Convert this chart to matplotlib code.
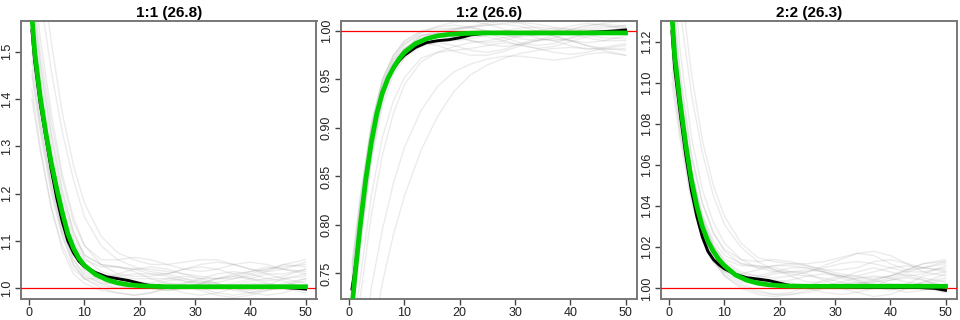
import matplotlib
matplotlib.use("Agg")
import matplotlib.pyplot as plt

plt.rcParams['font.family'] = ['Liberation Sans', 'DejaVu Sans']

titles = ["1:1 (26.8)", "1:2 (26.6)", "2:2 (26.3)"]

# x grid for mean and fitted curves
cx = [0.5, 1, 2, 3, 4, 5, 6, 7, 8, 9, 10, 12, 14, 16, 18, 20, 22, 25, 30, 35, 40, 45, 48, 50]

mean_11 = [1.545, 1.48, 1.39, 1.32, 1.25, 1.19, 1.14, 1.10, 1.075, 1.057, 1.046, 1.033, 1.024, 1.020, 1.016,
           1.010, 1.005, 1.003, 1.003, 1.003, 1.002, 1.002, 1.000, 0.998]
fit_11 = [1.575, 1.50, 1.405, 1.33, 1.265, 1.21, 1.16, 1.115, 1.085, 1.063, 1.048, 1.029, 1.018, 1.011, 1.007,
          1.005, 1.004, 1.003, 1.003, 1.003, 1.003, 1.003, 1.003, 1.003]

mean_12 = [0.734, 0.752, 0.80, 0.848, 0.886, 0.916, 0.937, 0.951, 0.961, 0.969, 0.975, 0.983, 0.988, 0.990,
           0.991, 0.993, 0.996, 0.998, 0.998, 0.998, 0.998, 0.999, 1.000, 1.001]
fit_12 = [0.715, 0.745, 0.80, 0.847, 0.885, 0.915, 0.936, 0.951, 0.962, 0.971, 0.978, 0.987, 0.992, 0.995,
          0.9965, 0.9972, 0.9977, 0.998, 0.998, 0.998, 0.998, 0.998, 0.998, 0.998]

mean_22 = [1.125, 1.107, 1.085, 1.065, 1.048, 1.035, 1.025, 1.018, 1.014, 1.0115, 1.0095, 1.0068, 1.0052, 1.0045,
           1.0038, 1.0025, 1.0013, 1.0008, 1.0008, 1.0005, 1.0004, 1.0004, 1.000, 0.999]
fit_22 = [1.133, 1.113, 1.09, 1.07, 1.053, 1.04, 1.03, 1.023, 1.018, 1.014, 1.011, 1.0065, 1.004, 1.0025,
          1.0017, 1.0013, 1.0011, 1.001, 1.001, 1.001, 1.001, 1.001, 1.001, 1.001]

# x grid for individual (gray) traces
gx = [0.5, 2, 4, 6, 8, 10, 13, 16, 19, 22, 25, 28, 31, 34, 37, 40, 43, 46, 50]

traces_11 = [
    [1.58, 1.42, 1.27, 1.16, 1.08, 1.04, 1.02, 1.01, 1.005, 1.00, 0.995, 1.00, 1.01, 1.02, 1.03, 1.035, 1.04, 1.045, 1.05],
    [1.45, 1.33, 1.20, 1.11, 1.05, 1.02, 1.00, 0.99, 0.985, 0.99, 1.00, 1.01, 1.015, 1.01, 1.00, 0.99, 0.985, 0.99, 1.005],
    [1.62, 1.47, 1.32, 1.20, 1.12, 1.07, 1.05, 1.045, 1.04, 1.04, 1.035, 1.03, 1.02, 1.02, 1.025, 1.035, 1.045, 1.04, 1.03],
    [1.52, 1.38, 1.24, 1.14, 1.07, 1.04, 1.025, 1.025, 1.03, 1.03, 1.025, 1.015, 1.005, 1.00, 1.005, 1.015, 1.02, 1.015, 1.00],
    [1.42, 1.30, 1.17, 1.08, 1.03, 1.01, 0.995, 0.99, 0.985, 0.99, 1.00, 1.005, 1.00, 0.99, 0.985, 0.99, 1.00, 1.01, 1.02],
    [1.85, 1.70, 1.52, 1.37, 1.26, 1.18, 1.11, 1.075, 1.06, 1.05, 1.05, 1.055, 1.06, 1.06, 1.05, 1.04, 1.035, 1.04, 1.055],
    [1.56, 1.42, 1.28, 1.17, 1.10, 1.06, 1.045, 1.045, 1.035, 1.02, 1.01, 1.01, 1.02, 1.03, 1.035, 1.03, 1.02, 1.025, 1.04],
    [1.48, 1.35, 1.22, 1.12, 1.06, 1.03, 1.01, 1.00, 1.005, 1.01, 1.02, 1.025, 1.02, 1.01, 1.00, 0.995, 1.005, 1.02, 1.03],
    [1.65, 1.50, 1.35, 1.23, 1.14, 1.09, 1.06, 1.06, 1.065, 1.06, 1.05, 1.04, 1.035, 1.04, 1.05, 1.055, 1.05, 1.04, 1.035],
    [1.50, 1.36, 1.22, 1.12, 1.06, 1.025, 1.01, 1.01, 1.015, 1.01, 1.00, 0.99, 0.985, 0.99, 1.00, 1.01, 1.01, 1.00, 0.99],
    [1.60, 1.45, 1.30, 1.19, 1.11, 1.07, 1.05, 1.045, 1.04, 1.03, 1.03, 1.04, 1.05, 1.055, 1.05, 1.04, 1.03, 1.03, 1.04],
    [1.40, 1.29, 1.17, 1.09, 1.04, 1.02, 1.02, 1.03, 1.04, 1.045, 1.04, 1.03, 1.025, 1.02, 1.02, 1.025, 1.035, 1.05, 1.06],
    [1.75, 1.62, 1.46, 1.33, 1.23, 1.15, 1.09, 1.06, 1.045, 1.035, 1.03, 1.02, 1.01, 1.005, 1.01, 1.02, 1.03, 1.02, 1.01],
    [1.54, 1.40, 1.26, 1.15, 1.08, 1.045, 1.03, 1.02, 1.01, 1.00, 0.995, 1.00, 1.01, 1.02, 1.025, 1.02, 1.01, 1.005, 1.015],
    [1.57, 1.41, 1.26, 1.15, 1.075, 1.035, 1.015, 1.005, 1.00, 1.005, 1.015, 1.02, 1.015, 1.005, 0.995, 0.99, 0.995, 1.005, 1.02],
    [1.68, 1.53, 1.37, 1.24, 1.15, 1.09, 1.05, 1.03, 1.025, 1.025, 1.03, 1.04, 1.045, 1.04, 1.03, 1.02, 1.015, 1.02, 1.025],
    [1.46, 1.34, 1.21, 1.11, 1.05, 1.02, 1.005, 1.00, 1.00, 1.005, 1.01, 1.005, 0.995, 0.985, 0.98, 0.985, 0.995, 1.00, 1.00],
    [1.63, 1.48, 1.33, 1.21, 1.12, 1.065, 1.035, 1.025, 1.02, 1.02, 1.02, 1.015, 1.01, 1.012, 1.02, 1.03, 1.04, 1.05, 1.045],
]

traces_12 = [
    [0.72, 0.79, 0.88, 0.935, 0.965, 0.982, 0.995, 1.0, 1.002, 1.004, 1.006, 1.007, 1.005, 1.0, 0.995, 0.99, 0.988, 0.99, 0.995],
    [0.76, 0.83, 0.905, 0.950, 0.975, 0.990, 1.0, 1.004, 1.006, 1.004, 1.0, 0.996, 0.994, 0.996, 1.0, 1.005, 1.008, 1.006, 1.002],
    [0.68, 0.745, 0.83, 0.89, 0.928, 0.952, 0.972, 0.978, 0.980, 0.982, 0.985, 0.988, 0.986, 0.982, 0.978, 0.976, 0.978, 0.982, 0.985],
    [0.73, 0.80, 0.888, 0.94, 0.967, 0.982, 0.995, 0.998, 0.995, 0.99, 0.988, 0.99, 0.995, 1.0, 1.003, 1.001, 0.996, 0.993, 0.992],
    [0.745, 0.815, 0.895, 0.945, 0.97, 0.986, 0.998, 1.005, 1.009, 1.01, 1.007, 1.002, 0.997, 0.995, 0.997, 1.001, 1.005, 1.008, 1.01],
    [0.60, 0.66, 0.735, 0.795, 0.843, 0.88, 0.918, 0.943, 0.958, 0.966, 0.971, 0.974, 0.974, 0.972, 0.970, 0.972, 0.976, 0.978, 0.975],
    [0.735, 0.805, 0.89, 0.94, 0.965, 0.978, 0.986, 0.989, 0.991, 0.994, 0.998, 1.0, 0.998, 0.993, 0.99, 0.992, 0.996, 1.0, 1.003],
    [0.70, 0.775, 0.865, 0.922, 0.955, 0.972, 0.984, 0.988, 0.985, 0.98, 0.978, 0.981, 0.987, 0.992, 0.99, 0.985, 0.981, 0.983, 0.987],
    [0.75, 0.822, 0.902, 0.95, 0.975, 0.989, 0.999, 1.002, 1.003, 1.004, 1.006, 1.008, 1.009, 1.007, 1.004, 1.002, 1.001, 1.003, 1.006],
    [0.725, 0.795, 0.88, 0.933, 0.962, 0.978, 0.99, 0.993, 0.994, 0.996, 0.994, 0.99, 0.985, 0.982, 0.984, 0.989, 0.994, 0.997, 0.997],
    [0.56, 0.61, 0.68, 0.74, 0.79, 0.83, 0.877, 0.912, 0.938, 0.955, 0.965, 0.972, 0.977, 0.98, 0.982, 0.983, 0.982, 0.981, 0.982],
    [0.74, 0.812, 0.895, 0.945, 0.97, 0.982, 0.988, 0.985, 0.979, 0.975, 0.975, 0.979, 0.985, 0.99, 0.992, 0.99, 0.985, 0.98, 0.975],
    [0.71, 0.785, 0.872, 0.93, 0.962, 0.98, 0.993, 0.998, 1.002, 1.005, 1.008, 1.01, 1.008, 1.003, 0.998, 0.995, 0.997, 1.0, 1.003],
    [0.73, 0.80, 0.885, 0.938, 0.966, 0.981, 0.991, 0.994, 0.996, 0.998, 0.997, 0.993, 0.988, 0.985, 0.987, 0.993, 0.998, 1.001, 0.999],
    [0.715, 0.79, 0.876, 0.933, 0.963, 0.979, 0.99, 0.996, 1.001, 1.003, 1.0, 0.996, 0.992, 0.99, 0.993, 0.998, 1.003, 1.005, 1.004],
    [0.66, 0.725, 0.81, 0.872, 0.915, 0.945, 0.968, 0.978, 0.984, 0.988, 0.99, 0.993, 0.996, 0.997, 0.995, 0.99, 0.985, 0.982, 0.98],
    [0.755, 0.825, 0.9, 0.948, 0.973, 0.987, 0.996, 0.997, 0.994, 0.99, 0.986, 0.984, 0.986, 0.99, 0.996, 1.002, 1.006, 1.007, 1.005],
    [0.70, 0.78, 0.87, 0.928, 0.96, 0.977, 0.988, 0.99, 0.99, 0.992, 0.996, 1.0, 1.003, 1.004, 1.002, 0.998, 0.993, 0.99, 0.99],
]

traces_22 = [
    [1.135, 1.092, 1.055, 1.032, 1.019, 1.011, 1.006, 1.004, 1.003, 1.002, 1.001, 1.0, 1.0, 1.002, 1.004, 1.006, 1.008, 1.01, 1.012],
    [1.105, 1.075, 1.045, 1.026, 1.014, 1.007, 1.002, 0.999, 0.997, 0.997, 0.998, 1.0, 1.002, 1.003, 1.002, 1.0, 0.998, 0.999, 1.002],
    [1.15, 1.105, 1.066, 1.042, 1.027, 1.018, 1.012, 1.01, 1.011, 1.012, 1.011, 1.009, 1.007, 1.006, 1.008, 1.01, 1.011, 1.01, 1.008],
    [1.125, 1.085, 1.05, 1.03, 1.017, 1.01, 1.006, 1.005, 1.007, 1.008, 1.007, 1.004, 1.001, 1.0, 1.001, 1.004, 1.005, 1.004, 1.0],
    [1.11, 1.077, 1.045, 1.025, 1.013, 1.006, 1.0, 0.997, 0.996, 0.997, 0.999, 1.001, 1.0, 0.998, 0.996, 0.997, 1.0, 1.003, 1.005],
    [1.19, 1.15, 1.105, 1.072, 1.05, 1.035, 1.022, 1.015, 1.013, 1.012, 1.012, 1.013, 1.015, 1.017, 1.016, 1.012, 1.009, 1.01, 1.013],
    [1.13, 1.09, 1.054, 1.033, 1.021, 1.014, 1.011, 1.011, 1.009, 1.006, 1.003, 1.003, 1.005, 1.008, 1.01, 1.008, 1.006, 1.007, 1.011],
    [1.115, 1.082, 1.048, 1.028, 1.016, 1.009, 1.004, 1.002, 1.003, 1.004, 1.006, 1.007, 1.006, 1.004, 1.001, 0.999, 1.002, 1.006, 1.008],
    [1.145, 1.102, 1.064, 1.041, 1.027, 1.019, 1.014, 1.013, 1.014, 1.013, 1.011, 1.009, 1.009, 1.01, 1.013, 1.014, 1.012, 1.01, 1.009],
    [1.12, 1.083, 1.048, 1.027, 1.015, 1.008, 1.003, 1.003, 1.004, 1.003, 1.0, 0.998, 0.997, 0.998, 1.0, 1.002, 1.002, 1.0, 0.998],
    [1.135, 1.095, 1.058, 1.036, 1.023, 1.016, 1.012, 1.011, 1.01, 1.008, 1.008, 1.01, 1.012, 1.013, 1.012, 1.01, 1.008, 1.008, 1.01],
    [1.10, 1.072, 1.042, 1.024, 1.013, 1.008, 1.007, 1.009, 1.011, 1.011, 1.01, 1.008, 1.006, 1.005, 1.005, 1.006, 1.009, 1.012, 1.014],
    [1.17, 1.135, 1.095, 1.066, 1.045, 1.031, 1.02, 1.013, 1.009, 1.007, 1.006, 1.005, 1.003, 1.002, 1.003, 1.005, 1.007, 1.005, 1.003],
    [1.128, 1.088, 1.052, 1.031, 1.018, 1.01, 1.005, 1.003, 1.002, 1.001, 1.0, 1.001, 1.003, 1.005, 1.006, 1.005, 1.003, 1.002, 1.004],
    [1.14, 1.097, 1.058, 1.035, 1.021, 1.013, 1.008, 1.006, 1.005, 1.006, 1.008, 1.011, 1.014, 1.017, 1.018, 1.016, 1.012, 1.008, 1.006],
    [1.118, 1.08, 1.046, 1.026, 1.014, 1.006, 1.001, 0.998, 0.997, 0.998, 1.001, 1.004, 1.006, 1.006, 1.004, 1.002, 1.001, 1.003, 1.007],
    [1.16, 1.115, 1.074, 1.048, 1.032, 1.022, 1.014, 1.01, 1.008, 1.008, 1.009, 1.008, 1.006, 1.004, 1.004, 1.006, 1.009, 1.012, 1.013],
    [1.132, 1.093, 1.056, 1.034, 1.02, 1.012, 1.007, 1.006, 1.008, 1.01, 1.01, 1.008, 1.005, 1.003, 1.003, 1.004, 1.006, 1.004, 1.001],
]

ref_level = 1.0
xticks = [0, 10, 20, 30, 40, 50]
yticks_11 = [1.0, 1.1, 1.2, 1.3, 1.4, 1.5]
yticks_12 = [0.75, 0.80, 0.85, 0.90, 0.95, 1.00]
yticks_22 = [1.00, 1.02, 1.04, 1.06, 1.08, 1.10, 1.12]
ylims = [(0.977, 1.565), (0.7237, 1.0103), (0.9948, 1.1301)]

panels = [
    (traces_11, mean_11, fit_11, yticks_11, "%.1f"),
    (traces_12, mean_12, fit_12, yticks_12, "%.2f"),
    (traces_22, mean_22, fit_22, yticks_22, "%.2f"),
]

fig = plt.figure(figsize=(9.6, 3.2), dpi=100)
lefts = [21 / 960, 341 / 960, 661 / 960]
w = 295.5 / 960
b = 21 / 320
h = 278 / 320

for i, (traces, mean, fit, yt, fmt) in enumerate(panels):
    ax = fig.add_axes([lefts[i], b, w, h])
    for tr in traces:
        ax.plot(gx, tr, color=(0.6, 0.6, 0.6), alpha=0.19, lw=1.0)
    ax.axhline(ref_level, color='#ff0000', lw=0.9, zorder=3)
    ax.plot(cx, mean, color='black', lw=2.1, zorder=4)
    ax.plot(cx, fit, color='#00cd00', lw=3.4, zorder=5)
    ax.set_xlim(-1.48, 51.98)
    ax.set_ylim(*ylims[i])
    ax.set_xticks(xticks)
    ax.set_yticks(yt)
    ax.set_yticklabels([fmt % v for v in yt], rotation=90, va='center')
    ax.tick_params(axis='both', direction='out', length=4.5, width=1.0, color='#444444',
                   labelsize=9, labelcolor='#222222', pad=1.5)
    for s in ax.spines.values():
        s.set_color('#777777')
        s.set_linewidth(1.4)
    ax.set_title(titles[i], fontsize=11, fontweight='bold', pad=3)

fig.savefig("out.png", dpi=100)
